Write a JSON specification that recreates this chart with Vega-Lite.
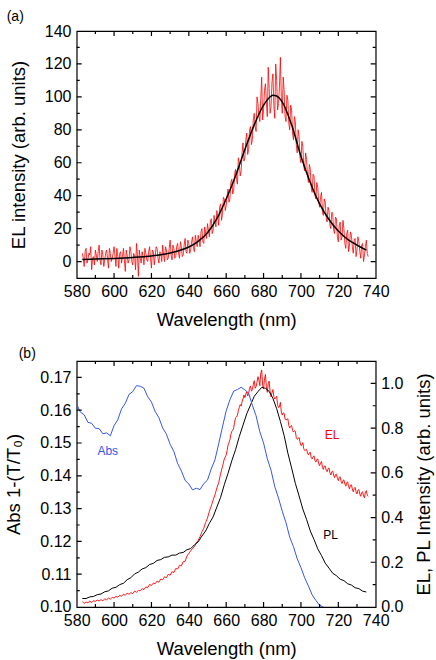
{
  "$schema": "https://vega.github.io/schema/vega-lite/v6.json",
  "padding": {"left": 3.7, "top": 9, "right": 0, "bottom": 0},
  "background": "white",
  "bounds": "flush",
  "spacing": 83,
  "config": {
    "font": "Liberation Sans",
    "view": {"stroke": "black", "strokeWidth": 1.2},
    "axis": {
      "labelFont": "Liberation Sans",
      "titleFont": "Liberation Sans",
      "labelFontSize": 16,
      "titleFontSize": 18.5,
      "titleFontWeight": "normal",
      "labelColor": "black",
      "titleColor": "black",
      "ticks": false,
      "tickSize": 0,
      "domain": false,
      "grid": false,
      "labelOverlap": false,
      "labelFlush": false,
      "labelBound": false
    },
    "tick": {"opacity": 1, "color": "black", "thickness": 1.2}
  },
  "datasets": {
    "elA": [
      {"x":583,"y":5},{"x":584,"y":-3},{"x":585,"y":8},{"x":586,"y":1},{"x":587,"y":4},{"x":588,"y":-5},{"x":589,"y":3},{"x":590,"y":7},{"x":591,"y":0},{"x":592,"y":10},
      {"x":593,"y":-2},{"x":594,"y":4},{"x":595,"y":1},{"x":596,"y":7},{"x":597,"y":-4},{"x":598,"y":5},{"x":599,"y":2},{"x":600,"y":9},{"x":601,"y":-3},{"x":602,"y":3},
      {"x":603,"y":5},{"x":604,"y":-1},{"x":605,"y":8},{"x":606,"y":-6},{"x":607,"y":4},{"x":608,"y":1},{"x":609,"y":6},{"x":610,"y":-2},{"x":611,"y":3},{"x":612,"y":11},
      {"x":613,"y":-9},{"x":614,"y":2},{"x":615,"y":6},{"x":616,"y":-2},{"x":617,"y":5},{"x":618,"y":0},{"x":619,"y":9},{"x":620,"y":-4},{"x":621,"y":6},{"x":622,"y":3},
      {"x":623,"y":8},{"x":624,"y":-1},{"x":625,"y":5},{"x":626,"y":10},{"x":627,"y":0},{"x":628,"y":7},{"x":629,"y":2},{"x":630,"y":13},{"x":631,"y":1},{"x":632,"y":8},
      {"x":633,"y":3},{"x":634,"y":11},{"x":635,"y":2},{"x":636,"y":9},{"x":637,"y":4},{"x":638,"y":14},{"x":639,"y":5},{"x":640,"y":11},{"x":641,"y":7},{"x":642,"y":15},
      {"x":643,"y":6},{"x":644,"y":12},{"x":645,"y":16},{"x":646,"y":9},{"x":647,"y":20},{"x":648,"y":11},{"x":649,"y":17},{"x":650,"y":23},{"x":651,"y":15},{"x":652,"y":26},
      {"x":653,"y":19},{"x":654,"y":24},{"x":655,"y":31},{"x":656,"y":22},{"x":657,"y":35},{"x":658,"y":29},{"x":659,"y":38},{"x":660,"y":34},{"x":661,"y":44},{"x":662,"y":38},
      {"x":663,"y":50},{"x":664,"y":43},{"x":665,"y":56},{"x":666,"y":47},{"x":667,"y":60},{"x":668,"y":55},{"x":669,"y":72},{"x":670,"y":63},{"x":671,"y":78},{"x":672,"y":68},
      {"x":673,"y":82},{"x":674,"y":74},{"x":675,"y":90},{"x":676,"y":79},{"x":677,"y":96},{"x":678,"y":85},{"x":679,"y":112},{"x":680,"y":92},{"x":681,"y":108},{"x":682,"y":88},
      {"x":683,"y":105},{"x":684,"y":94},{"x":685,"y":114},{"x":686,"y":87},{"x":687,"y":110},{"x":688,"y":96},{"x":689,"y":124},{"x":690,"y":90},{"x":691,"y":104},{"x":692,"y":85},
      {"x":693,"y":98},{"x":694,"y":80},{"x":695,"y":92},{"x":696,"y":74},{"x":697,"y":85},{"x":698,"y":66},{"x":699,"y":76},{"x":700,"y":60},{"x":701,"y":70},{"x":702,"y":55},
      {"x":703,"y":62},{"x":704,"y":48},{"x":705,"y":56},{"x":706,"y":42},{"x":707,"y":52},{"x":708,"y":38},{"x":709,"y":45},{"x":710,"y":33},{"x":711,"y":42},{"x":712,"y":28},
      {"x":713,"y":36},{"x":714,"y":24},{"x":715,"y":31},{"x":716,"y":20},{"x":717,"y":29},{"x":718,"y":17},{"x":719,"y":26},{"x":720,"y":12},{"x":721,"y":24},{"x":722,"y":15},
      {"x":723,"y":20},{"x":724,"y":8},{"x":725,"y":19},{"x":726,"y":10},{"x":727,"y":16},{"x":728,"y":5},{"x":729,"y":14},{"x":730,"y":7},{"x":731,"y":12},{"x":732,"y":2},
      {"x":733,"y":11},{"x":734,"y":4},{"x":735,"y":13},{"x":736,"y":3},
      {"x":583.5,"y":2},{"x":584.5,"y":6},{"x":585.5,"y":-1},{"x":586.5,"y":5},{"x":587.5,"y":9},{"x":588.5,"y":2},{"x":589.5,"y":-2},{"x":590.5,"y":4},{"x":591.5,"y":6},{"x":592.5,"y":1},
      {"x":593.5,"y":7},{"x":594.5,"y":-3},{"x":595.5,"y":5},{"x":596.5,"y":2},{"x":597.5,"y":8},{"x":598.5,"y":0},{"x":599.5,"y":5},{"x":600.5,"y":3},{"x":601.5,"y":8},{"x":602.5,"y":-4},
      {"x":603.5,"y":6},{"x":604.5,"y":3},{"x":605.5,"y":1},{"x":606.5,"y":7},{"x":607.5,"y":-1},{"x":608.5,"y":9},{"x":609.5,"y":0},{"x":610.5,"y":5},{"x":611.5,"y":-5},{"x":612.5,"y":4},
      {"x":613.5,"y":7},{"x":614.5,"y":-1},{"x":615.5,"y":3},{"x":616.5,"y":8},{"x":617.5,"y":1},{"x":618.5,"y":6},{"x":619.5,"y":2},{"x":620.5,"y":7},{"x":621.5,"y":-2},{"x":622.5,"y":9},
      {"x":623.5,"y":2},{"x":624.5,"y":6},{"x":625.5,"y":0},{"x":626.5,"y":4},{"x":627.5,"y":9},{"x":628.5,"y":1},{"x":629.5,"y":8},{"x":630.5,"y":4},{"x":631.5,"y":10},{"x":632.5,"y":2},
      {"x":633.5,"y":9},{"x":634.5,"y":5},{"x":635.5,"y":12},{"x":636.5,"y":3},{"x":637.5,"y":10},{"x":638.5,"y":6},{"x":639.5,"y":13},{"x":640.5,"y":5},{"x":641.5,"y":12},{"x":642.5,"y":8},
      {"x":643.5,"y":16},{"x":644.5,"y":9},{"x":645.5,"y":13},{"x":646.5,"y":18},{"x":647.5,"y":12},{"x":648.5,"y":21},{"x":649.5,"y":14},{"x":650.5,"y":19},{"x":651.5,"y":24},{"x":652.5,"y":17},
      {"x":653.5,"y":28},{"x":654.5,"y":21},{"x":655.5,"y":27},{"x":656.5,"y":33},{"x":657.5,"y":25},{"x":658.5,"y":39},{"x":659.5,"y":31},{"x":660.5,"y":40},{"x":661.5,"y":36},{"x":662.5,"y":48},
      {"x":663.5,"y":41},{"x":664.5,"y":53},{"x":665.5,"y":50},{"x":666.5,"y":63},{"x":667.5,"y":52},{"x":668.5,"y":66},{"x":669.5,"y":61},{"x":670.5,"y":74},{"x":671.5,"y":65},{"x":672.5,"y":80},
      {"x":673.5,"y":71},{"x":674.5,"y":86},{"x":675.5,"y":82},{"x":676.5,"y":100},{"x":677.5,"y":88},{"x":678.5,"y":99},{"x":679.5,"y":86},{"x":680.5,"y":104},{"x":681.5,"y":97},{"x":682.5,"y":118},
      {"x":683.5,"y":90},{"x":684.5,"y":109},{"x":685.5,"y":95},{"x":686.5,"y":120},{"x":687.5,"y":92},{"x":688.5,"y":106},{"x":689.5,"y":100},{"x":690.5,"y":112},{"x":691.5,"y":88},{"x":692.5,"y":101},
      {"x":693.5,"y":84},{"x":694.5,"y":95},{"x":695.5,"y":78},{"x":696.5,"y":88},{"x":697.5,"y":71},{"x":698.5,"y":80},{"x":699.5,"y":63},{"x":700.5,"y":73},{"x":701.5,"y":58},{"x":702.5,"y":66},
      {"x":703.5,"y":52},{"x":704.5,"y":59},{"x":705.5,"y":45},{"x":706.5,"y":53},{"x":707.5,"y":40},{"x":708.5,"y":48},{"x":709.5,"y":36},{"x":710.5,"y":39},{"x":711.5,"y":30},{"x":712.5,"y":38},
      {"x":713.5,"y":27},{"x":714.5,"y":33},{"x":715.5,"y":22},{"x":716.5,"y":30},{"x":717.5,"y":19},{"x":718.5,"y":27},{"x":719.5,"y":15},{"x":720.5,"y":22},{"x":721.5,"y":13},{"x":722.5,"y":25},
      {"x":723.5,"y":11},{"x":724.5,"y":17},{"x":725.5,"y":6},{"x":726.5,"y":18},{"x":727.5,"y":9},{"x":728.5,"y":13},{"x":729.5,"y":3},{"x":730.5,"y":15},{"x":731.5,"y":6},{"x":732.5,"y":10},
      {"x":733.5,"y":0},{"x":734.5,"y":9},{"x":735.5,"y":5}
    ],
    "fitA": [
      {"x":583,"y":1.2},{"x":590,"y":1.5},{"x":600,"y":1.9},{"x":610,"y":2.5},{"x":620,"y":3.4},{"x":625,"y":4.1},{"x":630,"y":5.2},{"x":635,"y":6.7},{"x":640,"y":8.8},{"x":645,"y":12.3},
      {"x":650,"y":17.5},{"x":655,"y":26},{"x":660,"y":38},{"x":665,"y":52},{"x":670,"y":68},{"x":675,"y":83},{"x":680,"y":95},{"x":683,"y":99.5},{"x":685,"y":101},{"x":687,"y":100.5},
      {"x":690,"y":97},{"x":695,"y":83},{"x":700,"y":64},{"x":705,"y":48},{"x":710,"y":35},{"x":715,"y":25.5},{"x":720,"y":18.5},{"x":725,"y":13.5},{"x":730,"y":10},{"x":735,"y":7}
    ],
    "elB": [
      {"x":583,"y":0.024},{"x":584,"y":0.016},{"x":585,"y":0.022},{"x":586,"y":0.019},{"x":587,"y":0.026},{"x":588,"y":0.020},{"x":589,"y":0.028},{"x":590,"y":0.025},{"x":591,"y":0.031},{"x":592,"y":0.027},
      {"x":593,"y":0.033},{"x":594,"y":0.028},{"x":595,"y":0.036},{"x":596,"y":0.032},{"x":597,"y":0.040},{"x":598,"y":0.035},{"x":599,"y":0.043},{"x":600,"y":0.040},{"x":601,"y":0.047},{"x":602,"y":0.044},
      {"x":603,"y":0.052},{"x":604,"y":0.048},{"x":605,"y":0.057},{"x":606,"y":0.053},{"x":607,"y":0.061},{"x":608,"y":0.057},{"x":609,"y":0.064},{"x":610,"y":0.060},{"x":611,"y":0.071},{"x":612,"y":0.066},
      {"x":613,"y":0.074},{"x":614,"y":0.072},{"x":615,"y":0.082},{"x":616,"y":0.078},{"x":617,"y":0.090},{"x":618,"y":0.086},{"x":619,"y":0.101},{"x":620,"y":0.096},{"x":621,"y":0.107},{"x":622,"y":0.104},
      {"x":623,"y":0.116},{"x":624,"y":0.111},{"x":625,"y":0.125},{"x":626,"y":0.122},{"x":627,"y":0.135},{"x":628,"y":0.131},{"x":629,"y":0.146},{"x":630,"y":0.142},{"x":631,"y":0.158},{"x":632,"y":0.154},
      {"x":633,"y":0.172},{"x":634,"y":0.170},{"x":635,"y":0.186},{"x":636,"y":0.184},{"x":637,"y":0.203},{"x":638,"y":0.204},{"x":639,"y":0.228},{"x":640,"y":0.240},{"x":641,"y":0.251},{"x":642,"y":0.262},
      {"x":643,"y":0.270},{"x":644,"y":0.286},{"x":645,"y":0.298},{"x":646,"y":0.314},{"x":647,"y":0.336},{"x":648,"y":0.352},{"x":649,"y":0.378},{"x":650,"y":0.398},{"x":651,"y":0.428},{"x":652,"y":0.452},
      {"x":653,"y":0.478},{"x":654,"y":0.502},{"x":655,"y":0.532},{"x":656,"y":0.556},{"x":657,"y":0.596},{"x":658,"y":0.628},{"x":659,"y":0.662},{"x":660,"y":0.680},{"x":661,"y":0.724},{"x":662,"y":0.748},
      {"x":663,"y":0.786},{"x":664,"y":0.800},{"x":665,"y":0.846},{"x":666,"y":0.858},{"x":667,"y":0.892},{"x":668,"y":0.898},{"x":669,"y":0.930},{"x":670,"y":0.936},{"x":671,"y":0.962},{"x":672,"y":0.955},
      {"x":673,"y":0.988},{"x":674,"y":0.972},{"x":675,"y":1.012},{"x":676,"y":0.985},{"x":677,"y":1.030},{"x":678,"y":0.990},{"x":679,"y":1.060},{"x":680,"y":0.975},{"x":681,"y":1.040},{"x":682,"y":0.960},
      {"x":683,"y":1.010},{"x":684,"y":0.940},{"x":685,"y":0.972},{"x":686,"y":0.930},{"x":687,"y":0.942},{"x":688,"y":0.892},{"x":689,"y":0.915},{"x":690,"y":0.858},{"x":691,"y":0.866},{"x":692,"y":0.838},
      {"x":693,"y":0.842},{"x":694,"y":0.800},{"x":695,"y":0.812},{"x":696,"y":0.782},{"x":697,"y":0.786},{"x":698,"y":0.750},{"x":699,"y":0.758},{"x":700,"y":0.722},{"x":701,"y":0.735},{"x":702,"y":0.700},
      {"x":703,"y":0.705},{"x":704,"y":0.680},{"x":705,"y":0.692},{"x":706,"y":0.662},{"x":707,"y":0.676},{"x":708,"y":0.648},{"x":709,"y":0.662},{"x":710,"y":0.632},{"x":711,"y":0.650},{"x":712,"y":0.615},
      {"x":713,"y":0.630},{"x":714,"y":0.605},{"x":715,"y":0.622},{"x":716,"y":0.590},{"x":717,"y":0.608},{"x":718,"y":0.578},{"x":719,"y":0.594},{"x":720,"y":0.565},{"x":721,"y":0.582},{"x":722,"y":0.552},
      {"x":723,"y":0.568},{"x":724,"y":0.540},{"x":725,"y":0.560},{"x":726,"y":0.528},{"x":727,"y":0.546},{"x":728,"y":0.515},{"x":729,"y":0.535},{"x":730,"y":0.505},{"x":731,"y":0.525},{"x":732,"y":0.495},
      {"x":733,"y":0.515},{"x":734,"y":0.488},{"x":735,"y":0.520},{"x":736,"y":0.495},
      {"x":660.5,"y":0.700},{"x":661.5,"y":0.735},{"x":662.5,"y":0.772},{"x":663.5,"y":0.790},{"x":664.5,"y":0.826},{"x":665.5,"y":0.850},{"x":666.5,"y":0.878},{"x":667.5,"y":0.905},{"x":668.5,"y":0.918},{"x":669.5,"y":0.948},
      {"x":670.5,"y":0.952},{"x":671.5,"y":0.944},{"x":672.5,"y":0.978},{"x":673.5,"y":0.965},{"x":674.5,"y":0.995},{"x":675.5,"y":0.978},{"x":676.5,"y":1.005},{"x":677.5,"y":1.015},{"x":678.5,"y":1.045},{"x":679.5,"y":0.990},
      {"x":680.5,"y":1.020},{"x":681.5,"y":0.985},{"x":682.5,"y":0.998},{"x":683.5,"y":0.962},{"x":684.5,"y":0.958},{"x":685.5,"y":0.940},{"x":686.5,"y":0.935},{"x":687.5,"y":0.905},{"x":688.5,"y":0.895},{"x":689.5,"y":0.872},
      {"x":690.5,"y":0.868},{"x":691.5,"y":0.840},{"x":692.5,"y":0.838},{"x":693.5,"y":0.812},{"x":694.5,"y":0.808},{"x":695.5,"y":0.790},{"x":696.5,"y":0.788},{"x":697.5,"y":0.758},{"x":698.5,"y":0.752},{"x":699.5,"y":0.738},
      {"x":700.5,"y":0.724},{"x":701.5,"y":0.708},{"x":702.5,"y":0.702},{"x":703.5,"y":0.688},{"x":704.5,"y":0.690},{"x":705.5,"y":0.668},{"x":706.5,"y":0.672},{"x":707.5,"y":0.655},{"x":708.5,"y":0.660},{"x":709.5,"y":0.640},
      {"x":710.5,"y":0.645},{"x":711.5,"y":0.625},{"x":712.5,"y":0.630},{"x":713.5,"y":0.612},{"x":714.5,"y":0.618},{"x":715.5,"y":0.600},{"x":716.5,"y":0.605},{"x":717.5,"y":0.590},{"x":718.5,"y":0.592},{"x":719.5,"y":0.575},
      {"x":720.5,"y":0.580},{"x":721.5,"y":0.562},{"x":722.5,"y":0.566},{"x":723.5,"y":0.550},{"x":724.5,"y":0.555},{"x":725.5,"y":0.538},{"x":726.5,"y":0.545},{"x":727.5,"y":0.528},{"x":728.5,"y":0.530},{"x":729.5,"y":0.515},
      {"x":730.5,"y":0.522},{"x":731.5,"y":0.505},{"x":732.5,"y":0.512},{"x":733.5,"y":0.496},{"x":734.5,"y":0.515},{"x":735.5,"y":0.500}
    ],
    "plB": [
      {"x":583,"y":0.038},{"x":585,"y":0.038},{"x":587,"y":0.045},{"x":589,"y":0.047},{"x":591,"y":0.055},{"x":593,"y":0.058},{"x":595,"y":0.068},{"x":597,"y":0.072},{"x":599,"y":0.084},{"x":601,"y":0.088},
      {"x":603,"y":0.100},{"x":605,"y":0.106},{"x":607,"y":0.122},{"x":609,"y":0.131},{"x":611,"y":0.148},{"x":613,"y":0.156},{"x":615,"y":0.170},{"x":617,"y":0.176},{"x":619,"y":0.190},{"x":621,"y":0.195},
      {"x":623,"y":0.208},{"x":625,"y":0.212},{"x":627,"y":0.222},{"x":629,"y":0.224},{"x":631,"y":0.232},{"x":633,"y":0.232},{"x":635,"y":0.241},{"x":637,"y":0.244},{"x":639,"y":0.256},{"x":641,"y":0.261},
      {"x":643,"y":0.278},{"x":645,"y":0.291},{"x":647,"y":0.317},{"x":649,"y":0.340},{"x":651,"y":0.374},{"x":653,"y":0.403},{"x":655,"y":0.447},{"x":657,"y":0.490},{"x":659,"y":0.547},{"x":661,"y":0.598},
      {"x":663,"y":0.654},{"x":665,"y":0.703},{"x":667,"y":0.762},{"x":669,"y":0.813},{"x":671,"y":0.864},{"x":673,"y":0.903},{"x":675,"y":0.942},{"x":677,"y":0.963},{"x":679,"y":0.982},{"x":681,"y":0.978},
      {"x":683,"y":0.964},{"x":685,"y":0.933},{"x":687,"y":0.887},{"x":689,"y":0.830},{"x":691,"y":0.767},{"x":693,"y":0.688},{"x":695,"y":0.622},{"x":697,"y":0.553},{"x":699,"y":0.497},{"x":701,"y":0.438},
      {"x":703,"y":0.392},{"x":705,"y":0.340},{"x":707,"y":0.302},{"x":709,"y":0.260},{"x":711,"y":0.230},{"x":713,"y":0.196},{"x":715,"y":0.174},{"x":717,"y":0.151},{"x":719,"y":0.140},{"x":721,"y":0.124},
      {"x":723,"y":0.118},{"x":725,"y":0.104},{"x":727,"y":0.098},{"x":729,"y":0.086},{"x":731,"y":0.082},{"x":733,"y":0.071},{"x":735,"y":0.067}
    ],
    "absB": [
      {"x":580,"y":0.1618},{"x":582,"y":0.1594},{"x":584,"y":0.1586},{"x":586,"y":0.1563},{"x":588,"y":0.1560},{"x":590,"y":0.1545},{"x":592,"y":0.1544},{"x":594,"y":0.1528},{"x":596,"y":0.1531},{"x":598,"y":0.1522},
      {"x":600,"y":0.1553},{"x":602,"y":0.1571},{"x":604,"y":0.1604},{"x":606,"y":0.1621},{"x":608,"y":0.1648},{"x":610,"y":0.1657},{"x":612,"y":0.1675},{"x":614,"y":0.1673},{"x":616,"y":0.1667},{"x":618,"y":0.1641},
      {"x":620,"y":0.1625},{"x":622,"y":0.1596},{"x":624,"y":0.1577},{"x":626,"y":0.1546},{"x":628,"y":0.1527},{"x":630,"y":0.1496},{"x":632,"y":0.1474},{"x":634,"y":0.1438},{"x":636,"y":0.1415},{"x":638,"y":0.1386},
      {"x":640,"y":0.1375},{"x":642,"y":0.1357},{"x":644,"y":0.1362},{"x":646,"y":0.1358},{"x":648,"y":0.1376},{"x":650,"y":0.1387},{"x":652,"y":0.1421},{"x":654,"y":0.1449},{"x":656,"y":0.1498},{"x":658,"y":0.1549},
      {"x":660,"y":0.1598},{"x":662,"y":0.1632},{"x":664,"y":0.1658},{"x":666,"y":0.1663},{"x":668,"y":0.1670},{"x":670,"y":0.1662},{"x":672,"y":0.1652},{"x":674,"y":0.1615},{"x":676,"y":0.1583},{"x":678,"y":0.1534},
      {"x":680,"y":0.1500},{"x":682,"y":0.1452},{"x":684,"y":0.1417},{"x":686,"y":0.1367},{"x":688,"y":0.1332},{"x":690,"y":0.1292},{"x":692,"y":0.1257},{"x":694,"y":0.1213},{"x":696,"y":0.1184},{"x":698,"y":0.1147},
      {"x":700,"y":0.1120},{"x":702,"y":0.1089},{"x":704,"y":0.1064},{"x":706,"y":0.1037},{"x":708,"y":0.1020},{"x":710,"y":0.1005},{"x":712,"y":0.1000}
    ],
    "xMaj": [600,620,640,660,680,700,720],
    "xMin": [590,610,630,650,670,690,710,730],
    "yMajA": [0,20,40,60,80,100,120],
    "yMinA": [10,30,50,70,90,110,130],
    "rMaj": [0.2,0.4,0.6,0.8,1.0],
    "rMin": [0.1,0.3,0.5,0.7,0.9],
    "aMaj": [0.11,0.12,0.13,0.14,0.15,0.16,0.17],
    "aMin": [0.105,0.115,0.125,0.135,0.145,0.155,0.165]
  },
  "vconcat": [
    {
      "width": 299,
      "height": 247,
      "title": {"text": "(a)", "anchor": "start", "frame": "group", "dx": -70, "offset": -1, "fontSize": 14, "fontWeight": "normal", "font": "Liberation Sans", "color": "black"},
      "resolve": {"axis": {"x": "independent", "y": "independent"}},
      "layer": [
        {
          "data": {"name": "elA"},
          "mark": {"type": "line", "color": "#ff0000", "strokeWidth": 0.8, "clip": true},
          "encoding": {
            "x": {"field": "x", "type": "quantitative", "scale": {"domain": [580, 740], "nice": false, "zero": false},
              "axis": {"orient": "bottom", "values": [580,600,620,640,660,680,700,720,740], "labelOverlap": false, "labelPadding": 5.5, "title": "Wavelength (nm)", "titlePadding": 11}},
            "y": {"field": "y", "type": "quantitative", "scale": {"domain": [-10, 140], "nice": false, "zero": false},
              "axis": {"orient": "left", "values": [0,20,40,60,80,100,120,140], "labelOverlap": false, "labelPadding": 5.7, "title": "EL intensity (arb. units)", "titlePadding": 16}}
          }
        },
        {
          "data": {"name": "fitA"},
          "mark": {"type": "line", "color": "black", "strokeWidth": 1.5, "interpolate": "monotone", "clip": true},
          "encoding": {
            "x": {"field": "x", "type": "quantitative", "scale": {"domain": [580, 740], "nice": false, "zero": false}, "axis": null},
            "y": {"field": "y", "type": "quantitative", "scale": {"domain": [-10, 140], "nice": false, "zero": false}, "axis": null}
          }
        },
        {"data": {"name": "xMaj"}, "mark": {"type": "tick", "orient": "vertical", "size": 10, "clip": true},
         "encoding": {"x": {"field": "data", "type": "quantitative", "scale": {"domain": [580, 740], "nice": false, "zero": false}, "axis": null}, "y": {"datum": -10, "type": "quantitative", "scale": {"domain": [-10, 140], "nice": false, "zero": false}, "axis": null}}},
        {"data": {"name": "xMaj"}, "mark": {"type": "tick", "orient": "vertical", "size": 10, "clip": true},
         "encoding": {"x": {"field": "data", "type": "quantitative", "scale": {"domain": [580, 740], "nice": false, "zero": false}, "axis": null}, "y": {"datum": 140, "type": "quantitative", "scale": {"domain": [-10, 140], "nice": false, "zero": false}, "axis": null}}},
        {"data": {"name": "xMin"}, "mark": {"type": "tick", "orient": "vertical", "size": 6, "clip": true},
         "encoding": {"x": {"field": "data", "type": "quantitative", "scale": {"domain": [580, 740], "nice": false, "zero": false}, "axis": null}, "y": {"datum": -10, "type": "quantitative", "scale": {"domain": [-10, 140], "nice": false, "zero": false}, "axis": null}}},
        {"data": {"name": "xMin"}, "mark": {"type": "tick", "orient": "vertical", "size": 6, "clip": true},
         "encoding": {"x": {"field": "data", "type": "quantitative", "scale": {"domain": [580, 740], "nice": false, "zero": false}, "axis": null}, "y": {"datum": 140, "type": "quantitative", "scale": {"domain": [-10, 140], "nice": false, "zero": false}, "axis": null}}},
        {"data": {"name": "yMajA"}, "mark": {"type": "tick", "orient": "horizontal", "size": 10, "clip": true},
         "encoding": {"y": {"field": "data", "type": "quantitative", "scale": {"domain": [-10, 140], "nice": false, "zero": false}, "axis": null}, "x": {"datum": 580, "type": "quantitative", "scale": {"domain": [580, 740], "nice": false, "zero": false}, "axis": null}}},
        {"data": {"name": "yMajA"}, "mark": {"type": "tick", "orient": "horizontal", "size": 10, "clip": true},
         "encoding": {"y": {"field": "data", "type": "quantitative", "scale": {"domain": [-10, 140], "nice": false, "zero": false}, "axis": null}, "x": {"datum": 740, "type": "quantitative", "scale": {"domain": [580, 740], "nice": false, "zero": false}, "axis": null}}},
        {"data": {"name": "yMinA"}, "mark": {"type": "tick", "orient": "horizontal", "size": 6, "clip": true},
         "encoding": {"y": {"field": "data", "type": "quantitative", "scale": {"domain": [-10, 140], "nice": false, "zero": false}, "axis": null}, "x": {"datum": 580, "type": "quantitative", "scale": {"domain": [580, 740], "nice": false, "zero": false}, "axis": null}}},
        {"data": {"name": "yMinA"}, "mark": {"type": "tick", "orient": "horizontal", "size": 6, "clip": true},
         "encoding": {"y": {"field": "data", "type": "quantitative", "scale": {"domain": [-10, 140], "nice": false, "zero": false}, "axis": null}, "x": {"datum": 740, "type": "quantitative", "scale": {"domain": [580, 740], "nice": false, "zero": false}, "axis": null}}}
      ]
    },
    {
      "width": 299,
      "height": 246,
      "title": {"text": "(b)", "anchor": "start", "frame": "group", "dx": -58, "offset": 0, "fontSize": 14, "fontWeight": "normal", "font": "Liberation Sans", "color": "black"},
      "resolve": {"scale": {"y": "independent"}, "axis": {"x": "independent", "y": "independent"}},
      "layer": [
        {
          "data": {"name": "elB"},
          "mark": {"type": "line", "color": "#ff0000", "strokeWidth": 0.9, "clip": true},
          "encoding": {
            "x": {"field": "x", "type": "quantitative", "scale": {"domain": [580, 740], "nice": false, "zero": false},
              "axis": {"orient": "bottom", "values": [580,600,620,640,660,680,700,720,740], "labelOverlap": false, "labelPadding": 5.5, "title": "Wavelength (nm)", "titlePadding": 11}},
            "y": {"field": "y", "type": "quantitative", "scale": {"domain": [0, 1.1], "nice": false, "zero": false},
              "axis": {"orient": "right", "values": [0,0.2,0.4,0.6,0.8,1.0], "format": ".1f", "labelOverlap": false, "labelPadding": 5,
                "title": "EL, PL Intensity (arb. units)", "titleAngle": 270, "titleBaseline": "top", "titlePadding": 12}}
          }
        },
        {
          "data": {"name": "plB"},
          "mark": {"type": "line", "color": "black", "strokeWidth": 1, "clip": true},
          "encoding": {
            "x": {"field": "x", "type": "quantitative", "scale": {"domain": [580, 740], "nice": false, "zero": false}, "axis": null},
            "y": {"field": "y", "type": "quantitative", "scale": {"domain": [0, 1.1], "nice": false, "zero": false}, "axis": null}
          }
        },
        {
          "data": {"name": "absB"},
          "mark": {"type": "line", "color": "#3355ee", "strokeWidth": 1, "clip": true},
          "encoding": {
            "x": {"field": "x", "type": "quantitative", "scale": {"domain": [580, 740], "nice": false, "zero": false}, "axis": null},
            "y": {"field": "y", "type": "quantitative", "scale": {"domain": [0.1, 0.175], "nice": false, "zero": false},
              "axis": {"orient": "left", "values": [0.1,0.11,0.12,0.13,0.14,0.15,0.16,0.17], "format": ".2f", "labelOverlap": false, "labelPadding": 5.7, "title": "Abs 1-(T/T₀)", "titlePadding": 16}}
          }
        },
        {
          "data": {"values": [{}]},
          "mark": {"type": "text", "color": "#ff0000", "fontSize": 12, "font": "Liberation Sans"},
          "encoding": {
            "x": {"datum": 716.6, "type": "quantitative", "scale": {"domain": [580, 740], "nice": false, "zero": false}, "axis": null},
            "y": {"datum": 0.77, "type": "quantitative", "scale": {"domain": [0, 1.1], "nice": false, "zero": false}, "axis": null},
            "text": {"value": "EL"}
          }
        },
        {
          "data": {"values": [{}]},
          "mark": {"type": "text", "color": "black", "fontSize": 12, "font": "Liberation Sans"},
          "encoding": {
            "x": {"datum": 715.8, "type": "quantitative", "scale": {"domain": [580, 740], "nice": false, "zero": false}, "axis": null},
            "y": {"datum": 0.32, "type": "quantitative", "scale": {"domain": [0, 1.1], "nice": false, "zero": false}, "axis": null},
            "text": {"value": "PL"}
          }
        },
        {
          "data": {"values": [{}]},
          "mark": {"type": "text", "color": "#3355ee", "fontSize": 12, "font": "Liberation Sans"},
          "encoding": {
            "x": {"datum": 596.6, "type": "quantitative", "scale": {"domain": [580, 740], "nice": false, "zero": false}, "axis": null},
            "y": {"datum": 0.1475, "type": "quantitative", "scale": {"domain": [0.1, 0.175], "nice": false, "zero": false}, "axis": null},
            "text": {"value": "Abs"}
          }
        },
        {"data": {"name": "xMaj"}, "mark": {"type": "tick", "orient": "vertical", "size": 10, "clip": true},
         "encoding": {"x": {"field": "data", "type": "quantitative", "scale": {"domain": [580, 740], "nice": false, "zero": false}, "axis": null}, "y": {"datum": 0, "type": "quantitative", "scale": {"domain": [0, 1.1], "nice": false, "zero": false}, "axis": null}}},
        {"data": {"name": "xMaj"}, "mark": {"type": "tick", "orient": "vertical", "size": 10, "clip": true},
         "encoding": {"x": {"field": "data", "type": "quantitative", "scale": {"domain": [580, 740], "nice": false, "zero": false}, "axis": null}, "y": {"datum": 1.1, "type": "quantitative", "scale": {"domain": [0, 1.1], "nice": false, "zero": false}, "axis": null}}},
        {"data": {"name": "xMin"}, "mark": {"type": "tick", "orient": "vertical", "size": 6, "clip": true},
         "encoding": {"x": {"field": "data", "type": "quantitative", "scale": {"domain": [580, 740], "nice": false, "zero": false}, "axis": null}, "y": {"datum": 0, "type": "quantitative", "scale": {"domain": [0, 1.1], "nice": false, "zero": false}, "axis": null}}},
        {"data": {"name": "xMin"}, "mark": {"type": "tick", "orient": "vertical", "size": 6, "clip": true},
         "encoding": {"x": {"field": "data", "type": "quantitative", "scale": {"domain": [580, 740], "nice": false, "zero": false}, "axis": null}, "y": {"datum": 1.1, "type": "quantitative", "scale": {"domain": [0, 1.1], "nice": false, "zero": false}, "axis": null}}},
        {"data": {"name": "rMaj"}, "mark": {"type": "tick", "orient": "horizontal", "size": 10, "clip": true},
         "encoding": {"y": {"field": "data", "type": "quantitative", "scale": {"domain": [0, 1.1], "nice": false, "zero": false}, "axis": null}, "x": {"datum": 740, "type": "quantitative", "scale": {"domain": [580, 740], "nice": false, "zero": false}, "axis": null}}},
        {"data": {"name": "rMin"}, "mark": {"type": "tick", "orient": "horizontal", "size": 6, "clip": true},
         "encoding": {"y": {"field": "data", "type": "quantitative", "scale": {"domain": [0, 1.1], "nice": false, "zero": false}, "axis": null}, "x": {"datum": 740, "type": "quantitative", "scale": {"domain": [580, 740], "nice": false, "zero": false}, "axis": null}}},
        {"data": {"name": "aMaj"}, "mark": {"type": "tick", "orient": "horizontal", "size": 10, "clip": true},
         "encoding": {"y": {"field": "data", "type": "quantitative", "scale": {"domain": [0.1, 0.175], "nice": false, "zero": false}, "axis": null}, "x": {"datum": 580, "type": "quantitative", "scale": {"domain": [580, 740], "nice": false, "zero": false}, "axis": null}}},
        {"data": {"name": "aMin"}, "mark": {"type": "tick", "orient": "horizontal", "size": 6, "clip": true},
         "encoding": {"y": {"field": "data", "type": "quantitative", "scale": {"domain": [0.1, 0.175], "nice": false, "zero": false}, "axis": null}, "x": {"datum": 580, "type": "quantitative", "scale": {"domain": [580, 740], "nice": false, "zero": false}, "axis": null}}}
      ]
    }
  ]
}
